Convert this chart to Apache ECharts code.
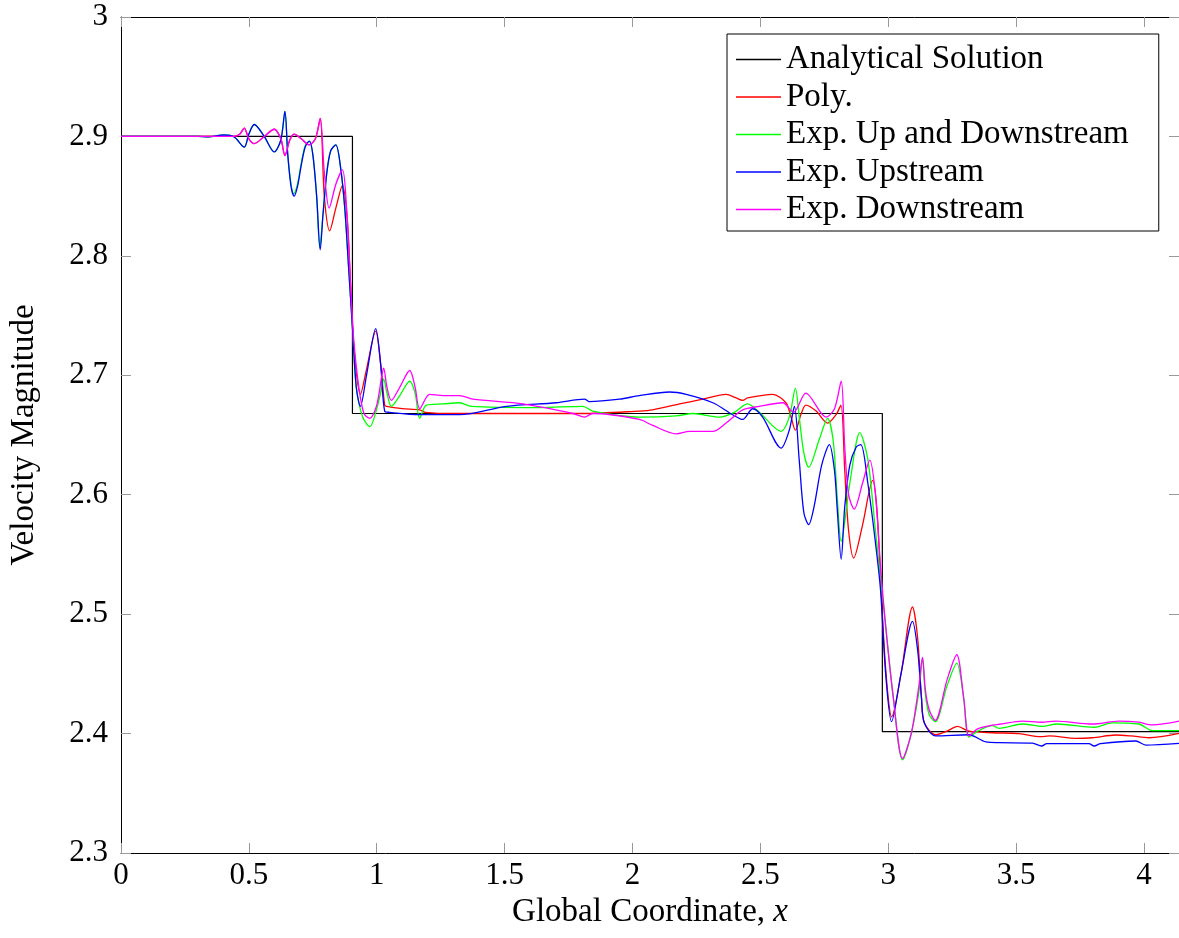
<!DOCTYPE html>
<html>
<head>
<meta charset="utf-8">
<script src="https://cdn.jsdelivr.net/npm/echarts@6/dist/echarts.min.js"></script>
<style>
html,body{margin:0;padding:0;background:#fff;}
#chart{width:1179px;height:938px;}
</style>
</head>
<body>
<div id="chart"></div>
<script>
const seriesNames = ['Analytical Solution', 'Poly.', 'Exp. Up and Downstream', 'Exp. Upstream', 'Exp. Downstream'];
const xTicks = [0, 0.5, 1, 1.5, 2, 2.5, 3, 3.5, 4];
const yTicks = [2.3, 2.4, 2.5, 2.6, 2.7, 2.8, 2.9, 3];

const analytical = [[0,2.9],[0.905,2.9],[0.905,2.668],[2.977,2.668],[2.977,2.4016],[4.14,2.4016]];

const poly = [[0,2.9],[0.30,2.9],[0.44,2.9],[0.465,2.902],[0.482,2.907],[0.50,2.898],[0.521,2.894],[0.56,2.900],[0.599,2.906],[0.625,2.898],[0.641,2.884],[0.66,2.897],[0.677,2.902],[0.705,2.898],[0.736,2.893],[0.76,2.898],[0.779,2.915],[0.795,2.85],[0.816,2.821],[0.84,2.84],[0.866,2.859],[0.885,2.83],[0.898,2.775],[0.912,2.72],[0.936,2.684],[0.96,2.705],[0.996,2.737],[1.015,2.71],[1.031,2.675],[1.038,2.674],[1.10,2.672],[1.168,2.671],[1.19,2.669],[1.3,2.668],[1.8,2.668],[2.027,2.670],[2.079,2.671],[2.184,2.676],[2.275,2.680],[2.366,2.684],[2.405,2.681],[2.431,2.679],[2.45,2.681],[2.548,2.684],[2.600,2.677],[2.620,2.665],[2.637,2.654],[2.66,2.668],[2.678,2.675],[2.718,2.670],[2.763,2.660],[2.796,2.667],[2.815,2.675],[2.83,2.62],[2.845,2.57],[2.865,2.547],[2.90,2.575],[2.939,2.612],[2.955,2.59],[2.97,2.53],[2.985,2.47],[3.0,2.43],[3.013,2.414],[3.05,2.45],[3.095,2.506],[3.115,2.48],[3.13,2.43],[3.141,2.409],[3.186,2.399],[3.23,2.402],[3.271,2.406],[3.316,2.402],[3.407,2.4007],[3.512,2.4],[3.596,2.3974],[3.63,2.398],[3.733,2.396],[3.798,2.3965],[3.889,2.3988],[3.95,2.398],[4.020,2.3965],[4.14,2.4003]];

const expUpDown = [[0,2.9],[0.30,2.9],[0.339,2.8996],[0.404,2.9012],[0.443,2.8995],[0.482,2.891],[0.50,2.902],[0.521,2.910],[0.56,2.900],[0.599,2.887],[0.625,2.897],[0.641,2.921],[0.652,2.885],[0.665,2.86],[0.675,2.852],[0.69,2.86],[0.705,2.878],[0.72,2.892],[0.736,2.896],[0.75,2.885],[0.765,2.85],[0.777,2.807],[0.79,2.835],[0.805,2.87],[0.82,2.888],[0.840,2.893],[0.858,2.875],[0.875,2.84],[0.89,2.79],[0.905,2.74],[0.92,2.69],[0.945,2.665],[0.973,2.657],[1.0,2.672],[1.02,2.69],[1.027,2.697],[1.04,2.685],[1.057,2.674],[1.09,2.683],[1.129,2.695],[1.15,2.685],[1.168,2.664],[1.194,2.675],[1.26,2.676],[1.324,2.677],[1.37,2.674],[1.637,2.673],[1.806,2.674],[1.845,2.670],[2.027,2.665],[2.171,2.666],[2.236,2.668],[2.340,2.665],[2.398,2.669],[2.450,2.676],[2.496,2.669],[2.581,2.653],[2.613,2.665],[2.637,2.689],[2.652,2.665],[2.67,2.635],[2.689,2.623],[2.73,2.646],[2.763,2.664],[2.785,2.645],[2.80,2.60],[2.816,2.561],[2.85,2.61],[2.889,2.652],[2.92,2.63],[2.95,2.57],[2.975,2.52],[2.99,2.49],[3.02,2.43],[3.056,2.378],[3.09,2.40],[3.12,2.435],[3.134,2.463],[3.145,2.433],[3.16,2.416],[3.184,2.410],[3.23,2.44],[3.268,2.459],[3.295,2.43],[3.316,2.397],[3.35,2.402],[3.407,2.4066],[3.434,2.4044],[3.525,2.408],[3.603,2.406],[3.66,2.408],[3.805,2.4053],[3.876,2.409],[3.980,2.408],[4.033,2.4024],[4.14,2.4024]];

const expUp = [[0,2.9],[0.30,2.9],[0.339,2.8996],[0.404,2.9012],[0.443,2.8995],[0.482,2.891],[0.50,2.902],[0.521,2.910],[0.56,2.900],[0.599,2.887],[0.625,2.897],[0.641,2.921],[0.652,2.885],[0.665,2.858],[0.677,2.850],[0.69,2.858],[0.705,2.876],[0.72,2.891],[0.736,2.896],[0.75,2.885],[0.765,2.85],[0.779,2.805],[0.79,2.835],[0.805,2.87],[0.82,2.888],[0.840,2.893],[0.858,2.875],[0.875,2.84],[0.89,2.79],[0.905,2.74],[0.92,2.69],[0.936,2.674],[0.96,2.70],[0.996,2.739],[1.015,2.71],[1.031,2.670],[1.05,2.669],[1.168,2.667],[1.324,2.667],[1.507,2.674],[1.702,2.677],[1.813,2.680],[1.83,2.678],[1.949,2.680],[2.027,2.683],[2.145,2.686],[2.210,2.684],[2.314,2.677],[2.392,2.667],[2.431,2.663],[2.470,2.672],[2.509,2.665],[2.581,2.639],[2.613,2.654],[2.633,2.674],[2.652,2.629],[2.67,2.585],[2.689,2.575],[2.71,2.59],[2.74,2.625],[2.770,2.642],[2.79,2.62],[2.80,2.59],[2.816,2.546],[2.83,2.59],[2.85,2.625],[2.875,2.640],[2.893,2.642],[2.92,2.61],[2.95,2.56],[2.97,2.52],[2.99,2.45],[3.013,2.410],[3.05,2.45],[3.095,2.494],[3.115,2.47],[3.13,2.43],[3.141,2.409],[3.186,2.398],[3.316,2.399],[3.382,2.393],[3.434,2.3924],[3.564,2.392],[3.600,2.3896],[3.62,2.3915],[3.785,2.3915],[3.805,2.3896],[3.83,2.3915],[3.968,2.3938],[4.007,2.3904],[4.14,2.3919]];

const expDown = [[0,2.9],[0.30,2.9],[0.44,2.9],[0.465,2.902],[0.482,2.907],[0.50,2.898],[0.521,2.894],[0.56,2.900],[0.599,2.906],[0.625,2.898],[0.641,2.884],[0.66,2.897],[0.677,2.902],[0.705,2.898],[0.736,2.893],[0.76,2.898],[0.779,2.915],[0.795,2.87],[0.814,2.840],[0.84,2.86],[0.866,2.872],[0.882,2.84],[0.898,2.775],[0.91,2.73],[0.93,2.69],[0.95,2.668],[0.973,2.664],[1.0,2.675],[1.02,2.70],[1.027,2.706],[1.04,2.69],[1.057,2.679],[1.09,2.69],[1.129,2.704],[1.15,2.69],[1.168,2.672],[1.207,2.684],[1.26,2.683],[1.324,2.683],[1.376,2.680],[1.572,2.676],[1.767,2.668],[1.813,2.665],[1.845,2.668],[2.027,2.663],[2.079,2.658],[2.171,2.651],[2.223,2.653],[2.314,2.653],[2.366,2.660],[2.431,2.671],[2.496,2.674],[2.587,2.677],[2.63,2.669],[2.678,2.685],[2.757,2.665],[2.79,2.672],[2.816,2.695],[2.83,2.64],[2.845,2.60],[2.867,2.588],[2.90,2.61],[2.928,2.629],[2.95,2.60],[2.97,2.54],[2.99,2.49],[3.02,2.43],[3.056,2.379],[3.09,2.40],[3.12,2.44],[3.134,2.464],[3.145,2.437],[3.16,2.42],[3.184,2.411],[3.23,2.445],[3.268,2.466],[3.295,2.43],[3.316,2.398],[3.35,2.404],[3.407,2.407],[3.434,2.4078],[3.525,2.4105],[3.60,2.4095],[3.655,2.4105],[3.798,2.408],[3.902,2.4105],[3.980,2.4095],[4.033,2.4072],[4.14,2.4105]];

const seriesData = [analytical, poly, expUpDown, expUp, expDown];
const colors = ['#000000', '#ff0000', '#00ff00', '#0000ff', '#ff00ff'];

const FONT = 'Liberation Serif';
const chart = echarts.init(document.getElementById('chart'), null, {renderer: 'canvas'});

const xMin = xTicks[0], xMax = 4.137;
const yMin = yTicks[0], yMax = yTicks[yTicks.length - 1];

function fmt(v, ticks) {
  for (const t of ticks) { if (Math.abs(v - t) < 1e-6) return String(t); }
  return '';
}

const option = {
  animation: false,
  backgroundColor: '#fff',
  color: colors,
  grid: {left: 121, top: 17, right: -1, bottom: 85, containLabel: false},
  legend: {
    show: true,
    orient: 'vertical',
    left: 727, top: 34,
    padding: [9, 30, 5, 9],
    borderColor: '#000', borderWidth: 1,
    icon: 'rect',
    itemWidth: 45, itemHeight: 1.3, itemGap: 4.5,
    data: seriesNames,
    textStyle: {fontFamily: FONT, fontSize: 33, color: '#000', lineHeight: 33}
  },
  xAxis: [{
    type: 'value', min: xMin, max: xMax, interval: 0.5, position: 'bottom',
    name: 'Global Coordinate, {i|x}', nameLocation: 'middle', nameGap: 39,
    nameTextStyle: {fontFamily: FONT, fontSize: 33, color: '#000', rich: {i: {fontFamily: FONT, fontSize: 33, fontStyle: 'italic', color: '#000'}}},
    axisLine: {show: true, onZero: false, lineStyle: {color: '#000', width: 1}},
    axisTick: {show: true, inside: true, length: 10, lineStyle: {color: '#999', width: 1}},
    axisLabel: {fontFamily: FONT, fontSize: 31, color: '#000', margin: 7, showMaxLabel: false, formatter: v => fmt(v, xTicks)},
    splitLine: {show: false}
  }, {
    type: 'value', min: xMin, max: xMax, interval: 0.5, position: 'top',
    axisLine: {show: true, onZero: false, lineStyle: {color: '#000', width: 1}},
    axisTick: {show: true, inside: true, length: 10, lineStyle: {color: '#999', width: 1}},
    axisLabel: {show: false}, splitLine: {show: false}
  }],
  yAxis: [{
    type: 'value', min: yMin, max: yMax, interval: 0.1, position: 'left',
    name: 'Velocity Magnitude', nameLocation: 'middle', nameGap: 80, nameRotate: 90,
    nameTextStyle: {fontFamily: FONT, fontSize: 33, color: '#000'},
    axisLine: {show: true, onZero: false, lineStyle: {color: '#000', width: 1}},
    axisTick: {show: true, inside: true, length: 10, lineStyle: {color: '#999', width: 1}},
    axisLabel: {fontFamily: FONT, fontSize: 31, color: '#000', margin: 13, formatter: v => fmt(v, yTicks)},
    splitLine: {show: false}
  }, {
    type: 'value', min: yMin, max: yMax, interval: 0.1, position: 'right',
    axisLine: {show: true, onZero: false, lineStyle: {color: '#000', width: 1}},
    axisTick: {show: true, inside: true, length: 10, lineStyle: {color: '#999', width: 1}},
    axisLabel: {show: false}, splitLine: {show: false}
  }],
  series: seriesNames.map((n, i) => ({
    name: n, type: 'line', data: seriesData[i],
    xAxisIndex: 0, yAxisIndex: 0,
    symbol: 'none', showSymbol: false,
    smooth: i === 0 ? false : 0.3,
    lineStyle: {color: colors[i], width: i === 0 ? 1.2 : 1.3},
    itemStyle: {color: colors[i]},
    z: 2 + i
  }))
};
chart.setOption(option);
</script>
</body>
</html>
